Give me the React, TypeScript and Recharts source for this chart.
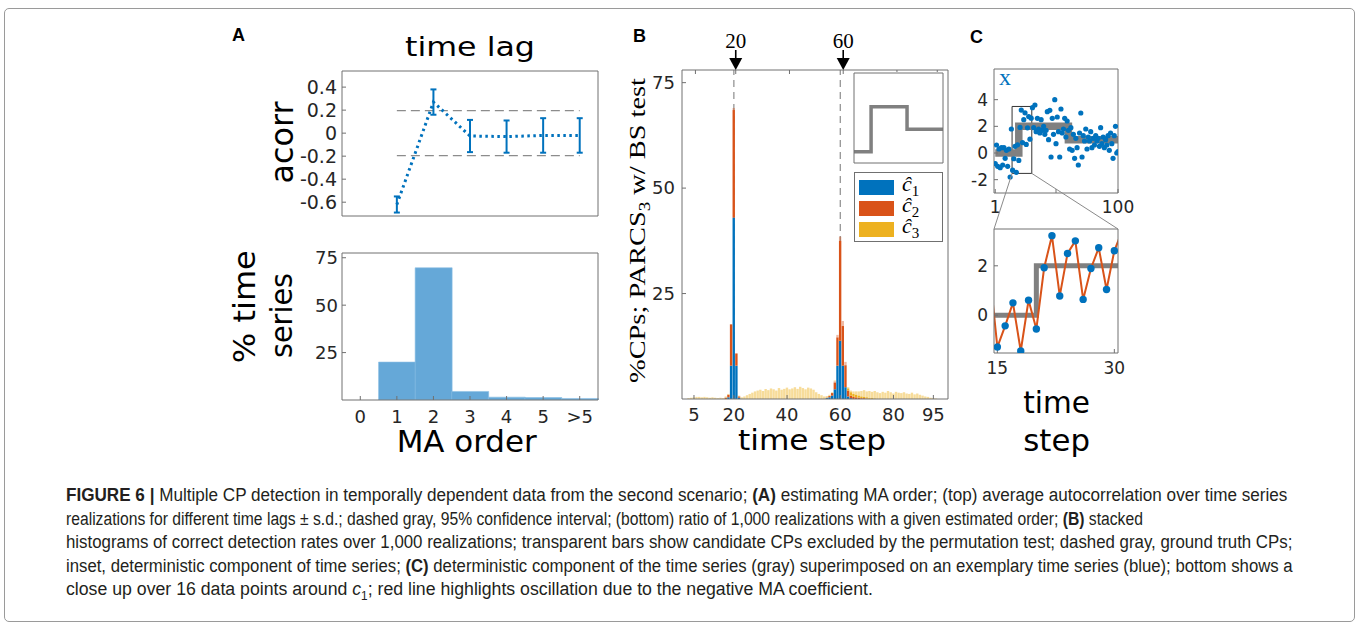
import React from "react";
import {
  ComposedChart,
  BarChart,
  LineChart,
  Bar,
  Line,
  XAxis,
  YAxis,
  ErrorBar,
  ReferenceLine,
  ReferenceArea,
} from "recharts";

const BLUE = "#0072bd";
const ORANGE = "#d95319";
const YELLOW = "#edb120";
const HIST_BLUE = "#65a8d8";
const GRAY = "#808080";
const INK = "#262626";
const EDGE = "#707070";
const SANS = "'DejaVu Sans', sans-serif";
const SERIF = "'Liberation Serif', 'DejaVu Serif', serif";
const NARROW = "'Liberation Sans Narrow', 'Liberation Sans', sans-serif";

// (A) top: mean autocorrelation per lag, +- s.d.
const lags = [1, 2, 3, 4, 5, 6];
const acorrMean = [-0.62, 0.27, -0.025, -0.03, -0.02, -0.02];
const acorrSd = [0.07, 0.11, 0.14, 0.14, 0.15, 0.15];
const confBound = 0.196;
const acorrTicks = [-0.6, -0.4, -0.2, 0, 0.2, 0.4];
const lagTicks = [0, 1, 2, 3, 4, 5, 6];

// (A) bottom: % of realizations per estimated MA order
const maOrders = ["0", "1", "2", "3", "4", "5", ">5"];
const maShare = [0, 20, 69.7, 4.5, 1.5, 1.3, 0.8];
const shareTicks = [25, 50, 75];

// (B) detection rates per time step (bins 1..100)
const cpTruth = [20, 60];
const stepTicks = [5, 20, 40, 60, 80, 95];
const rateTicks = [25, 50, 75];
const c1Rate = [
  0, 0, 0, 0, 0, 0, 0, 0, 0, 0,
  0, 0, 0, 0, 0, 0, 0, 0.4, 7.9, 43,
  7.9, 0.3, 0, 0, 0, 0, 0, 0, 0, 0,
  0, 0, 0, 0, 0, 0, 0, 0, 0, 0,
  0, 0, 0, 0, 0, 0, 0, 0, 0, 0,
  0, 0, 0, 0, 0.2, 0.4, 0.8, 2.3, 7.9, 13.8,
  7.9, 2.8, 0.6, 0.2, 0, 0, 0, 0, 0, 0,
  0, 0, 0, 0, 0, 0, 0, 0, 0, 0,
  0, 0, 0, 0, 0, 0, 0, 0, 0, 0,
  0, 0, 0, 0, 0, 0, 0, 0, 0, 0,
];
const c2Rate = [
  0, 0, 0, 0, 0, 0, 0, 0, 0, 0,
  0, 0, 0, 0, 0, 0, 0.3, 0.6, 9.8, 25.5,
  2.9, 0.3, 0, 0, 0, 0, 0, 0, 0, 0,
  0, 0, 0, 0, 0, 0, 0, 0, 0, 0,
  0, 0, 0, 0, 0, 0, 0, 0, 0, 0,
  0, 0, 0, 0, 0.1, 0.3, 0.6, 1.6, 6.7, 23.7,
  9.4, 5.2, 1.4, 0.6, 0.5, 0.4, 0.3, 0.2, 0.2, 0.1,
  0, 0, 0, 0, 0, 0, 0, 0, 0, 0,
  0, 0, 0, 0, 0, 0, 0, 0, 0, 0,
  0, 0, 0, 0, 0, 0, 0, 0, 0, 0,
];
const c3Rate = [
  0, 0, 0, 0, 0, 0, 0, 0, 0, 0,
  0, 0, 0, 0, 0, 0, 0, 0, 0, 0,
  0, 0, 0, 0, 0, 0, 0, 0, 0, 0,
  0, 0, 0, 0, 0, 0, 0, 0, 0, 0,
  0, 0, 0, 0, 0, 0, 0, 0, 0, 0,
  0, 0, 0, 0, 0, 0, 0, 0, 0, 0,
  0, 0, 0.5, 0.8, 0.7, 0.6, 0.5, 0.4, 0.3, 0.3,
  0.2, 0.2, 0.1, 0, 0, 0, 0, 0, 0, 0,
  0, 0, 0, 0, 0, 0, 0, 0, 0, 0,
  0, 0, 0, 0, 0, 0, 0, 0, 0, 0,
];
// excluded by permutation test (drawn transparent)
const exc2Rate = [
  0, 0, 0, 0, 0, 0, 0, 0, 0, 0,
  0, 0, 0, 0, 0, 0, 0, 0, 0, 0.5,
  0, 0, 0, 0, 0, 0, 0, 0, 0, 0,
  0, 0, 0, 0, 0, 0, 0, 0, 0, 0,
  0, 0, 0, 0, 0, 0, 0, 0, 0, 0,
  0, 0, 0, 0, 0, 0, 0, 0.3, 0.6, 1.0,
  1.2, 0.8, 0, 0, 0, 0, 0, 0, 0, 0,
  0, 0, 0, 0, 0, 0, 0, 0, 0, 0,
  0, 0, 0, 0, 0, 0, 0, 0, 0, 0,
  0, 0, 0, 0, 0, 0, 0, 0, 0, 0,
];
const exc3Rate = [
  0, 0, 0.2, 0.3, 0.4, 0.5, 0.5, 0.4, 0.5, 0.4,
  0.3, 0.4, 0.3, 0.2, 0.3, 0.2, 0.3, 0.2, 0, 0,
  0, 0.2, 0.4, 0.6, 0.9, 1.2, 1.5, 1.8, 2.0, 2.2,
  1.9, 2.4, 2.1, 2.5, 2.3, 2.0, 2.6, 2.2, 2.4, 2.7,
  2.3, 2.5, 2.8, 2.4, 2.9, 2.6, 2.3, 2.7, 2.5, 2.2,
  1.6, 1.2, 0.9, 0.6, 0.4, 0.3, 0.2, 0.2, 0, 0,
  0, 0, 0.3, 0.4, 0.6, 0.8, 1.0, 1.3, 1.6, 1.4,
  1.7, 1.5, 1.8, 1.6, 1.4, 1.7, 1.5, 1.9, 1.6, 1.3,
  1.7, 1.5, 1.4, 1.6, 1.3, 1.2, 1.5, 1.1, 1.3, 1.0,
  0.8, 0.6, 0.5, 0.3, 0.2, 0.1, 0, 0, 0, 0,
];

// deterministic component: level per segment between the true CPs
const segLevels = [0, 2, 1];

// (C) one exemplary time series, t = 1..100
const xSeries = [
  -0.8, 0.6, -1.0, 0.3, -1.1, 0.4, -0.9, 0.4, -0.4, 0.2,
  -1.0, 0.3, -1.8, 1.8, -1.29, -0.43, 0.5, -1.45, 0.61, -0.56,
  1.92, 3.22, 0.78, 2.5, 3.01, 0.64, 1.89, 2.73, 1.04, 2.61,
  3.4, 1.9, 3.6, 1.6, 2.6, 1.8, 1.5, 2.5, 1.7, 2.0,
  1.4, 1.7, 3.1, 1.0, 3.2, -0.3, 2.6, 1.4, 4.0, 0.7,
  2.7, 1.6, -0.3, 3.3, 1.5, 1.8, 2.6, 1.2, 2.4, 1.7,
  0.3, 1.9, 0.2, 1.4, -0.4, 1.1, 0.4, -0.9, 1.5, 3.0,
  -0.3, 1.3, 0.9, 1.8, 0.3, 1.2, 0.9, 1.6, 0.4, 1.1,
  0.6, 1.3, 0.9, 1.1, 0.5, 1.9, 0.7, 1.2, 0.4, 1.0,
  0.6, 1.3, 0.2, 1.5, 0.7, -0.4, 1.3, 2.0, 0.0, 0.1,
];
const cTimeTicks = [1, 50, 100];
const cValTicks = [-2, 0, 2, 4];
const closeTicks = [15, 30];
const closeValTicks = [0, 2];

// axis ranges
const lagDomain = [-0.5, 6.5];
const acorrDomain = [-0.72, 0.54];
const shareDomain = [0, 77.5];
const binDomain = [0.5, 100.5];
const rateDomain = [0, 78];
const cTimeDomain = [0, 100];
const cValDomain = [-3, 6.3];
const zoomT = [14.57, 30.47];
const zoomV = [-1.53, 3.49];

const levelAt = (t: number) => segLevels[cpTruth.filter((c) => t >= c).length];

const acorrData = lags.map((lag, i) => ({ lag, r: acorrMean[i], sd: acorrSd[i] }));
const maData = maOrders.map((order, i) => ({ order, share: maShare[i] }));
const binData = c1Rate.map((c1, i) => ({
  bin: i + 1,
  c1,
  c2: c2Rate[i],
  c3: c3Rate[i],
  x2: exc2Rate[i],
  x3: exc3Rate[i],
}));
const stepData = [1, ...cpTruth, 100].map((t) => ({ t, mu: levelAt(t) }));
const seriesData = xSeries.map((v, i) => ({ t: i + 1, v, mu: levelAt(i + 1) }));
const closeData = seriesData.filter((d) => d.t >= 14 && d.t <= 31);

type Box = { x: number; y: number; w: number; h: number };
type Pad = { l: number; r: number; t: number; b: number };

const A_TOP: Box = { x: 342, y: 71, w: 256, h: 145 };
const A_BOT: Box = { x: 342, y: 253, w: 256, h: 147 };
const B_BOX: Box = { x: 682, y: 70, w: 266, h: 329 };
const INSET: Box = { x: 854, y: 73, w: 89, h: 90 };
const C_TOP: Box = { x: 994, y: 69, w: 124, h: 124 };
const C_BOT: Box = { x: 994, y: 229, w: 124, h: 124 };

const frame = (box: Box, p: Pad) => ({
  style: { position: "absolute" as const, left: box.x - p.l, top: box.y - p.t },
  width: box.w + p.l + p.r,
  height: box.h + p.t + p.b,
  margin: { left: 0, right: p.r - 1, top: p.t - 1, bottom: 0 },
});

const tickFont = (size: number) => ({ fontSize: size, fill: INK, fontFamily: SANS });
const edge = { stroke: EDGE };

// top and right axes only carry the box edge and inward ticks
const mirrorAxes = (xd: number[], xt: number[], yd: number[], yt: number[], size = 4) => [
  <XAxis
    key="top"
    xAxisId="top"
    orientation="top"
    type="number"
    domain={xd}
    ticks={xt}
    interval={0}
    height={1}
    tick={false}
    tickSize={-size}
    axisLine={edge}
    tickLine={edge}
    allowDataOverflow
  />,
  <YAxis
    key="right"
    yAxisId="right"
    orientation="right"
    type="number"
    domain={yd}
    ticks={yt}
    interval={0}
    width={1}
    tick={false}
    tickSize={-size}
    axisLine={edge}
    tickLine={edge}
    allowDataOverflow
  />,
];

function AcorrPanel() {
  const f = frame(A_TOP, { l: 70, r: 4, t: 12, b: 8 });
  return (
    <div style={f.style}>
      <ComposedChart width={f.width} height={f.height} data={acorrData} margin={f.margin}>
        <XAxis
          dataKey="lag"
          type="number"
          domain={lagDomain}
          ticks={lagTicks}
          interval={0}
          height={8}
          tick={false}
          tickSize={-4}
          axisLine={edge}
          tickLine={edge}
          allowDataOverflow
        />
        <YAxis
          type="number"
          domain={acorrDomain}
          ticks={acorrTicks}
          interval={0}
          width={70}
          tickSize={-4}
          tickMargin={9}
          tick={tickFont(19)}
          tickFormatter={(v: number) => (v === 0 ? "0" : v.toFixed(1))}
          axisLine={edge}
          tickLine={edge}
          allowDataOverflow
        />
        {mirrorAxes(lagDomain, lagTicks, acorrDomain, acorrTicks)}
        <ReferenceLine
          segment={[{ x: 1, y: confBound }, { x: 6, y: confBound }]}
          stroke="#8c8c8c"
          strokeWidth={1.2}
          strokeDasharray="9 5"
        />
        <ReferenceLine
          segment={[{ x: 1, y: -confBound }, { x: 6, y: -confBound }]}
          stroke="#8c8c8c"
          strokeWidth={1.2}
          strokeDasharray="9 5"
        />
        <Line
          dataKey="r"
          stroke={BLUE}
          strokeWidth={3}
          strokeDasharray="2.5 3.5"
          dot={false}
          isAnimationActive={false}
        >
          <ErrorBar dataKey="sd" width={3} stroke={BLUE} strokeWidth={2} direction="y" />
        </Line>
      </ComposedChart>
    </div>
  );
}

function OrderPanel() {
  const f = frame(A_BOT, { l: 70, r: 4, t: 14, b: 40 });
  return (
    <div style={f.style}>
      <BarChart
        width={f.width}
        height={f.height}
        data={maData}
        margin={f.margin}
        barCategoryGap={0}
        barGap={0}
      >
        <XAxis
          dataKey="order"
          interval={0}
          height={40}
          tickSize={-4}
          tickMargin={14}
          tick={tickFont(18)}
          axisLine={edge}
          tickLine={edge}
        />
        <YAxis
          type="number"
          domain={shareDomain}
          ticks={shareTicks}
          interval={0}
          width={70}
          tickSize={-4}
          tickMargin={8}
          tick={tickFont(18)}
          axisLine={edge}
          tickLine={edge}
          allowDataOverflow
        />
        {mirrorAxes(lagDomain, lagTicks, shareDomain, shareTicks)}
        <Bar dataKey="share" fill={HIST_BLUE} stroke="#8cc0e4" strokeWidth={0.6} isAnimationActive={false} />
      </BarChart>
    </div>
  );
}

function ArrowTick(props: any) {
  const { x, y, payload } = props;
  if (!cpTruth.includes(payload.value)) return <g />;
  return (
    <g>
      <text x={x} y={y - 22} textAnchor="middle" fontFamily={SERIF} fontSize={21} fill="#000">
        {payload.value}
      </text>
      <line x1={x} y1={y - 20} x2={x} y2={y - 11} stroke="#000" strokeWidth={1.6} />
      <path d={`M${x - 6.5},${y - 12} L${x + 6.5},${y - 12} L${x},${y} Z`} fill="#000" />
    </g>
  );
}

const binWidth = B_BOX.w / (binDomain[1] - binDomain[0]);
const B_PAD: Pad = { l: 45, r: 4, t: 40, b: 35 };

// dashed ground-truth guides, drawn underneath the histogram
function DetectionGuides() {
  const f = frame(B_BOX, B_PAD);
  return (
    <div style={f.style}>
      <ComposedChart width={f.width} height={f.height} data={binData} margin={f.margin}>
        <XAxis
          dataKey="bin"
          type="number"
          domain={binDomain}
          height={35}
          axisLine={false}
          tickLine={false}
          tick={false}
          allowDataOverflow
        />
        <YAxis
          type="number"
          domain={rateDomain}
          width={45}
          axisLine={false}
          tickLine={false}
          tick={false}
          allowDataOverflow
        />
        <XAxis xAxisId="top" orientation="top" type="number" domain={binDomain} height={1} axisLine={false} tickLine={false} tick={false} />
        <YAxis yAxisId="right" orientation="right" type="number" domain={rateDomain} width={1} axisLine={false} tickLine={false} tick={false} />
        {cpTruth.map((cp) => (
          <ReferenceLine key={cp} x={cp} stroke="#8c8c8c" strokeWidth={1.2} strokeDasharray="7 5" />
        ))}
      </ComposedChart>
    </div>
  );
}

function DetectionPanel() {
  const f = frame(B_BOX, B_PAD);
  return (
    <div style={f.style}>
      <ComposedChart width={f.width} height={f.height} data={binData} margin={f.margin} barGap={0}>
        <XAxis
          dataKey="bin"
          type="number"
          domain={binDomain}
          ticks={stepTicks}
          interval={0}
          height={35}
          tickSize={-4}
          tickMargin={13}
          tick={tickFont(18)}
          axisLine={edge}
          tickLine={edge}
          allowDataOverflow
        />
        <YAxis
          type="number"
          domain={rateDomain}
          ticks={rateTicks}
          interval={0}
          width={45}
          tickSize={-4}
          tickMargin={11}
          tick={tickFont(18)}
          axisLine={edge}
          tickLine={edge}
          allowDataOverflow
        />
        <XAxis
          xAxisId="top"
          orientation="top"
          type="number"
          domain={binDomain}
          ticks={stepTicks}
          interval={0}
          height={1}
          tickSize={-4}
          tickMargin={4}
          tick={ArrowTick}
          axisLine={edge}
          tickLine={edge}
          allowDataOverflow
        />
        <YAxis
          yAxisId="right"
          orientation="right"
          type="number"
          domain={rateDomain}
          ticks={rateTicks}
          interval={0}
          width={1}
          tick={false}
          tickSize={-4}
          axisLine={edge}
          tickLine={edge}
          allowDataOverflow
        />
        <Bar dataKey="c1" stackId="s" fill={BLUE} barSize={binWidth} isAnimationActive={false} />
        <Bar dataKey="c2" stackId="s" fill={ORANGE} barSize={binWidth} isAnimationActive={false} />
        <Bar dataKey="c3" stackId="s" fill={YELLOW} barSize={binWidth} isAnimationActive={false} />
        <Bar dataKey="x2" stackId="s" fill={ORANGE} fillOpacity={0.4} barSize={binWidth} isAnimationActive={false} />
        <Bar dataKey="x3" stackId="s" fill={YELLOW} fillOpacity={0.45} barSize={binWidth} isAnimationActive={false} />
      </ComposedChart>
    </div>
  );
}

function InsetPanel() {
  const f = frame(INSET, { l: 1, r: 1, t: 1, b: 1 });
  return (
    <div style={{ ...f.style, background: "#fff" }}>
      <LineChart width={f.width} height={f.height} data={stepData} margin={f.margin}>
        <XAxis
          dataKey="t"
          type="number"
          domain={[1, 100]}
          ticks={[50]}
          height={1}
          tick={false}
          tickSize={-3}
          axisLine={edge}
          tickLine={edge}
          allowDataOverflow
        />
        <YAxis
          type="number"
          domain={[-0.5, 3.5]}
          ticks={[0, 1, 2, 3]}
          width={1}
          tick={false}
          tickSize={-3}
          axisLine={edge}
          tickLine={edge}
          allowDataOverflow
        />
        {mirrorAxes([1, 100], [50], [-0.5, 3.5], [0, 1, 2, 3], 3)}
        <Line dataKey="mu" type="stepAfter" stroke={GRAY} strokeWidth={3.5} dot={false} isAnimationActive={false} />
      </LineChart>
    </div>
  );
}

const legendItems = [
  { key: "1", color: BLUE },
  { key: "2", color: ORANGE },
  { key: "3", color: YELLOW },
];

function DetectionLegend() {
  return (
    <div
      style={{
        position: "absolute",
        left: 854,
        top: 172,
        width: 89,
        height: 70,
        border: `1px solid ${EDGE}`,
        background: "#fff",
        padding: "4px 0 0 4px",
        boxSizing: "border-box",
      }}
    >
      {legendItems.map((it) => (
        <div key={it.key} style={{ display: "flex", alignItems: "center", height: 21 }}>
          <div style={{ width: 35, height: 15, background: it.color }} />
          <span
            style={{
              marginLeft: 8,
              fontFamily: SERIF,
              fontStyle: "italic",
              fontSize: 22,
              lineHeight: "20px",
              color: "#000",
            }}
          >
            ĉ<sub style={{ fontSize: 15, fontStyle: "normal" }}>{it.key}</sub>
          </span>
        </div>
      ))}
    </div>
  );
}

function SeriesPanel() {
  const f = frame(C_TOP, { l: 40, r: 25, t: 4, b: 30 });
  return (
    <div style={f.style}>
      <ComposedChart width={f.width} height={f.height} data={seriesData} margin={f.margin}>
        <XAxis
          dataKey="t"
          type="number"
          domain={cTimeDomain}
          ticks={cTimeTicks}
          interval={0}
          height={30}
          tickSize={-4}
          tickMargin={12}
          tick={tickFont(17)}
          tickFormatter={(v: number) => (v === 50 ? "" : String(v))}
          axisLine={edge}
          tickLine={edge}
          allowDataOverflow
        />
        <YAxis
          type="number"
          domain={cValDomain}
          ticks={cValTicks}
          interval={0}
          width={40}
          tickSize={-4}
          tickMargin={10}
          tick={tickFont(17)}
          axisLine={edge}
          tickLine={edge}
          allowDataOverflow
        />
        {mirrorAxes(cTimeDomain, cTimeTicks, cValDomain, cValTicks)}
        <Line dataKey="mu" type="stepAfter" stroke={GRAY} strokeWidth={7.5} dot={false} isAnimationActive={false} />
        <Line
          dataKey="v"
          stroke="none"
          dot={{ r: 2.6, fill: BLUE, stroke: "none" }}
          isAnimationActive={false}
        />
        <ReferenceArea
          x1={zoomT[0]}
          x2={zoomT[1]}
          y1={zoomV[0]}
          y2={zoomV[1]}
          fill="none"
          fillOpacity={0}
          stroke="#333"
          strokeWidth={1}
        />
      </ComposedChart>
    </div>
  );
}

function CloseUpPanel() {
  const f = frame(C_BOT, { l: 40, r: 25, t: 4, b: 30 });
  return (
    <div style={f.style}>
      <ComposedChart width={f.width} height={f.height} data={closeData} margin={f.margin}>
        <XAxis
          dataKey="t"
          type="number"
          domain={zoomT}
          ticks={closeTicks}
          interval={0}
          height={30}
          tickSize={-4}
          tickMargin={13}
          tick={tickFont(17)}
          axisLine={edge}
          tickLine={edge}
          allowDataOverflow
        />
        <YAxis
          type="number"
          domain={zoomV}
          ticks={closeValTicks}
          interval={0}
          width={40}
          tickSize={-4}
          tickMargin={10}
          tick={tickFont(17)}
          axisLine={edge}
          tickLine={edge}
          allowDataOverflow
        />
        {mirrorAxes(zoomT, closeTicks, zoomV, closeValTicks)}
        <Line dataKey="mu" type="stepAfter" stroke={GRAY} strokeWidth={5} dot={false} isAnimationActive={false} />
        <Line
          dataKey="v"
          stroke={ORANGE}
          strokeWidth={2}
          dot={{ r: 3.7, fill: BLUE, stroke: "none" }}
          isAnimationActive={false}
        />
      </ComposedChart>
    </div>
  );
}

type Seg = { s: string; b?: boolean; i?: boolean; sub?: boolean };
const captionLines: { segs: Seg[]; right: number }[] = [
  {
    right: 1287,
    segs: [
      { s: "FIGURE 6 |", b: true },
      { s: " Multiple CP detection in temporally dependent data from the second scenario; " },
      { s: "(A)", b: true },
      { s: " estimating MA order; (top) average autocorrelation over time series" },
    ],
  },
  {
    right: 1143,
    segs: [
      {
        s: "realizations for different time lags ± s.d.; dashed gray, 95% confidence interval; (bottom) ratio of 1,000 realizations with a given estimated order; ",
      },
      { s: "(B)", b: true },
      { s: " stacked" },
    ],
  },
  {
    right: 1292,
    segs: [
      {
        s: "histograms of correct detection rates over 1,000 realizations; transparent bars show candidate CPs excluded by the permutation test; dashed gray, ground truth CPs;",
      },
    ],
  },
  {
    right: 1293,
    segs: [
      { s: "inset, deterministic component of time series; " },
      { s: "(C)", b: true },
      { s: " deterministic component of the time series (gray) superimposed on an exemplary time series (blue); bottom shows a" },
    ],
  },
  {
    right: 873,
    segs: [
      { s: "close up over 16 data points around " },
      { s: "c", i: true },
      { s: "1", sub: true },
      { s: "; red line highlights oscillation due to the negative MA coefficient." },
    ],
  },
];

const CAPTION_LEFT = 66;

// one caption line, squeezed horizontally to the width it has in the figure
function CaptionLine({ segs, right, top }: { segs: Seg[]; right: number; top: number }) {
  const ref = React.useRef<HTMLDivElement>(null);
  const [sx, setSx] = React.useState(1);
  const target = right - CAPTION_LEFT;
  React.useLayoutEffect(() => {
    const el = ref.current;
    if (!el) return;
    const w = el.scrollWidth;
    if (w > 0) setSx(target / w);
  }, [target]);
  return (
    <div
      ref={ref}
      style={{
        position: "absolute",
        left: CAPTION_LEFT,
        top,
        whiteSpace: "pre",
        fontFamily: NARROW,
        fontSize: 18,
        lineHeight: "20px",
        color: "#231f20",
        transform: `scaleX(${sx})`,
        transformOrigin: "0 0",
      }}
    >
      {segs.map((sg, j) =>
        sg.sub ? (
          <sub key={j} style={{ fontSize: 12, lineHeight: 0 }}>
            {sg.s}
          </sub>
        ) : (
          <span key={j} style={{ fontWeight: sg.b ? 700 : 400, fontStyle: sg.i ? "italic" : "normal" }}>
            {sg.s}
          </span>
        )
      )}
    </div>
  );
}

const cTopX = (t: number) => C_TOP.x + ((t - cTimeDomain[0]) / (cTimeDomain[1] - cTimeDomain[0])) * C_TOP.w;
const cTopY = (v: number) => C_TOP.y + ((cValDomain[1] - v) / (cValDomain[1] - cValDomain[0])) * C_TOP.h;

function Annotations() {
  const big = { fontFamily: SANS, fill: "#000" };
  const letter = { fontFamily: "'Liberation Sans', sans-serif", fontWeight: 700, fontSize: 18, fill: "#000" };
  return (
    <svg
      width={1358}
      height={629}
      style={{ position: "absolute", left: 0, top: 0, pointerEvents: "none" }}
    >
      <text x={232} y={41} {...letter}>A</text>
      <text x={633} y={42} {...letter}>B</text>
      <text x={970} y={43} {...letter}>C</text>

      <text x={405} y={56} fontSize={27} textLength={130} lengthAdjust="spacingAndGlyphs" {...big}>
        time lag
      </text>
      <text
        transform="translate(293,142.5) rotate(-90)"
        textAnchor="middle"
        fontSize={32}
        textLength={82}
        lengthAdjust="spacingAndGlyphs"
        {...big}
      >
        acorr
      </text>
      <text
        transform="translate(255,306.7) rotate(-90)"
        textAnchor="middle"
        fontSize={31}
        textLength={113}
        lengthAdjust="spacingAndGlyphs"
        {...big}
      >
        % time
      </text>
      <text
        transform="translate(291.7,315.5) rotate(-90)"
        textAnchor="middle"
        fontSize={31}
        textLength={85}
        lengthAdjust="spacingAndGlyphs"
        {...big}
      >
        series
      </text>
      <text x={396.7} y={451.7} fontSize={30} textLength={140} lengthAdjust="spacingAndGlyphs" {...big}>
        MA order
      </text>

      <text
        transform="translate(645,230.5) rotate(-90)"
        textAnchor="middle"
        fontFamily={SERIF}
        fontSize={24}
        fill="#000"
        textLength={305}
        lengthAdjust="spacingAndGlyphs"
        style={{ whiteSpace: "pre" }}
      >
        <tspan>%CPs; PARCS</tspan>
        <tspan dy={5} fontSize={16}>3</tspan>
        <tspan dy={-5}> w/ BS test</tspan>
      </text>
      <text x={738} y={450} fontSize={29} textLength={148} lengthAdjust="spacingAndGlyphs" {...big}>
        time step
      </text>

      <text x={999} y={85} fontFamily={SERIF} fontSize={24} fill={BLUE}>
        x
      </text>
      <line x1={cTopX(zoomT[0])} y1={cTopY(zoomV[0])} x2={C_BOT.x} y2={C_BOT.y} stroke="#8a8a8a" strokeWidth={1} />
      <line
        x1={cTopX(zoomT[1])}
        y1={cTopY(zoomV[0])}
        x2={C_BOT.x + C_BOT.w}
        y2={C_BOT.y}
        stroke="#8a8a8a"
        strokeWidth={1}
      />
      <text x={1023.3} y={413.3} fontSize={30} textLength={66.7} lengthAdjust="spacingAndGlyphs" {...big}>
        time
      </text>
      <text x={1023.3} y={451} fontSize={30} textLength={66.7} lengthAdjust="spacingAndGlyphs" {...big}>
        step
      </text>
    </svg>
  );
}

export default function App() {
  return (
    <div
      style={{
        position: "absolute",
        left: 0,
        top: 0,
        width: 1358,
        height: 629,
        background: "#fff",
        overflow: "hidden",
      }}
    >
      <div
        style={{
          position: "absolute",
          left: 4,
          top: 8,
          width: 1349,
          height: 612,
          border: "1px solid #9a9a9a",
          borderRadius: 5,
        }}
      />
      <DetectionGuides />
      <AcorrPanel />
      <OrderPanel />
      <DetectionPanel />
      <InsetPanel />
      <DetectionLegend />
      <SeriesPanel />
      <CloseUpPanel />
      <Annotations />
      {captionLines.map((line, k) => (
        <CaptionLine key={k} segs={line.segs} right={line.right} top={485 + k * 23.6} />
      ))}
    </div>
  );
}
